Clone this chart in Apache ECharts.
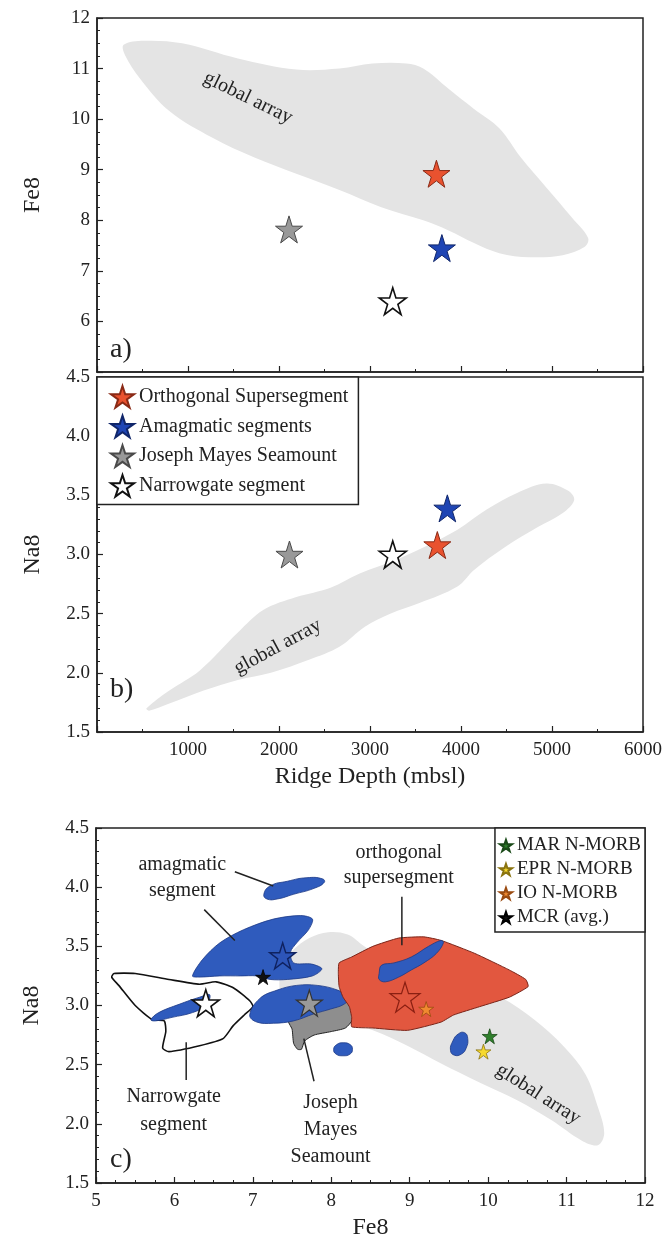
<!DOCTYPE html>
<html><head><meta charset="utf-8">
<script src="https://cdn.jsdelivr.net/npm/echarts@6/dist/echarts.min.js"></script>
<style>html,body{margin:0;padding:0;background:#fff}#c{width:665px;height:1239px}</style>
</head><body><div id="c"></div>
<script>
// ---------- DATA ----------
const groupNames = ['Orthogonal Supersegment', 'Amagmatic segments', 'Joseph Mayes Seamount', 'Narrowgate segment'];
// panel a: ridge depth vs Fe8
const depthA = [3730, 3790, 2110, 3250];
const fe8A = [8.92, 7.45, 7.82, 6.40];
// panel b: ridge depth vs Na8
const depthB = [3740, 3850, 2115, 3250];
const na8B = [3.08, 3.39, 3.00, 3.00];
// panel c: Fe8 vs Na8 (segment averages)
const fe8C = [8.94, 7.38, 7.72, 6.40];
const na8C = [3.07, 3.42, 3.02, 3.02];
// reference MORB averages (panel c)
const refNames = ['MAR N-MORB', 'EPR N-MORB', 'IO N-MORB', 'MCR (avg.)'];
const refFe8 = [10.02, 9.94, 9.21, 7.13];
const refNa8 = [2.74, 2.61, 2.97, 3.24];

// tick labels
const depthTicks = [1000, 2000, 3000, 4000, 5000, 6000];
const fe8TicksA = [6, 7, 8, 9, 10, 11, 12];
const na8Ticks = [1.5, 2.0, 2.5, 3.0, 3.5, 4.0, 4.5];
const fe8TicksC = [5, 6, 7, 8, 9, 10, 11, 12];

// global array outlines
const globalA = [[293,11.47],[516,11.55],[935,11.5],[1548,11.2],[2190,10.98],[2664,11.0],[3027,11.1],[3400,11.1],[3585,11.0],[3863,10.6],[4143,10.2],[4421,9.82],[4658,9.24],[4937,8.65],[5216,8.06],[5397,7.65],[5356,7.47],[5118,7.31],[4756,7.27],[4421,7.35],[4143,7.55],[3863,7.8],[3585,8.0],[3124,8.26],[2664,8.6],[2190,8.92],[1730,9.24],[1269,9.63],[795,10.16],[474,10.8],[307,11.27]];
const globalB = [[544,1.70],[795,1.85],[1130,2.02],[1548,2.34],[1827,2.53],[2190,2.64],[2566,2.72],[2887,2.84],[3264,2.95],[3585,3.06],[3961,3.21],[4282,3.38],[4616,3.52],[4937,3.60],[5174,3.54],[5244,3.46],[5118,3.35],[4840,3.23],[4477,3.06],[4143,2.87],[3961,2.73],[3543,2.59],[3222,2.50],[2943,2.39],[2664,2.22],[2329,2.11],[1911,2.00],[1548,1.94],[1172,1.85],[795,1.74],[572,1.68]];
const globalC = [[7.50,3.46],[7.72,3.57],[7.96,3.62],[8.21,3.60],[8.42,3.50],[8.75,3.36],[9.45,3.27],[10.16,3.07],[10.59,2.88],[10.97,2.65],[11.24,2.42],[11.40,2.14],[11.48,1.92],[11.40,1.82],[11.19,1.86],[10.81,2.03],[10.37,2.20],[9.89,2.35],[9.40,2.51],[8.97,2.66],[8.53,2.79],[8.10,2.88],[7.67,2.93],[7.39,3.05],[7.34,3.22],[7.42,3.38]];
// panel c compositional fields
const orthField = [[8.10,3.36],[8.26,3.41],[8.53,3.50],[8.86,3.57],[9.18,3.58],[9.40,3.55],[9.83,3.44],[10.27,3.30],[10.48,3.22],[10.51,3.16],[10.27,3.07],[9.89,2.99],[9.56,2.92],[9.40,2.86],[8.97,2.79],[8.53,2.81],[8.26,2.82],[8.26,2.90],[8.23,2.99],[8.15,3.07],[8.10,3.16],[8.09,3.27]];
const hookField = [[8.61,3.27],[8.64,3.34],[8.80,3.36],[9.02,3.41],[9.24,3.50],[9.40,3.55],[9.43,3.53],[9.34,3.44],[9.18,3.36],[9.02,3.30],[8.86,3.24],[8.69,3.20],[8.61,3.22]];
const amagBig = [[6.23,3.25],[6.36,3.39],[6.58,3.53],[6.88,3.64],[7.26,3.73],[7.61,3.76],[7.76,3.73],[7.71,3.64],[7.56,3.53],[7.48,3.45],[7.52,3.36],[7.75,3.35],[7.88,3.31],[7.76,3.25],[7.44,3.22],[7.22,3.22],[7.05,3.25],[6.84,3.25],[6.58,3.25],[6.31,3.24]];
const amagTop = [[7.14,3.94],[7.22,4.01],[7.44,4.05],[7.69,4.08],[7.89,4.07],[7.91,4.04],[7.78,3.99],[7.52,3.94],[7.31,3.90],[7.18,3.90]];
const narrowField = [[5.23,3.27],[5.50,3.27],[5.93,3.22],[6.32,3.18],[6.53,3.20],[6.75,3.15],[6.96,3.04],[7.00,2.99],[6.89,2.92],[6.75,2.83],[6.62,2.72],[6.32,2.66],[5.93,2.61],[5.85,2.64],[5.89,2.78],[5.87,2.87],[5.72,2.88],[5.50,3.00],[5.29,3.17],[5.20,3.24]];
const narrowBlue = [[5.70,2.88],[5.80,2.94],[6.06,3.01],[6.32,3.07],[6.45,3.09],[6.40,3.00],[6.23,2.94],[5.97,2.90],[5.76,2.87]];
const jmsGray = [[7.45,2.88],[7.50,2.80],[7.52,2.68],[7.57,2.63],[7.62,2.63],[7.66,2.70],[7.78,2.75],[8.00,2.78],[8.18,2.81],[8.27,2.88],[8.27,3.00],[8.20,3.08],[7.90,3.00]];
const jmsBlue = [[6.96,2.92],[7.09,3.06],[7.31,3.13],[7.56,3.17],[7.82,3.17],[8.08,3.13],[8.23,3.07],[8.16,3.01],[7.99,2.97],[7.78,2.93],[7.52,2.87],[7.26,2.85],[7.05,2.86]];
const blueSmall1 = [[8.03,2.63],[8.07,2.67],[8.15,2.685],[8.24,2.67],[8.27,2.63],[8.24,2.59],[8.15,2.575],[8.06,2.59]];
const blueSmall2 = [[9.52,2.62],[9.55,2.70],[9.62,2.76],[9.70,2.77],[9.74,2.72],[9.72,2.64],[9.66,2.59],[9.57,2.58]];

// annotations (text, anchor x, anchor y, rotation deg)
const notesA = [['global array', 1660, 10.42, -26]];
const notesB = [['global array', 1986, 2.22, 28.5]];
const notesC = [
  ['amagmatic', 6.10, 4.19, 0], ['segment', 6.10, 3.97, 0],
  ['orthogonal', 8.86, 4.29, 0], ['supersegment', 8.86, 4.08, 0],
  ['Narrowgate', 5.99, 2.23, 0], ['segment', 5.99, 1.99, 0],
  ['Joseph', 7.99, 2.18, 0], ['Mayes', 7.99, 1.95, 0], ['Seamount', 7.99, 1.72, 0],
  ['global array', 10.64, 2.25, -32.5]
];
const leadersC = [
  [[6.77,4.13],[7.26,4.01]],
  [[6.38,3.81],[6.77,3.55]],
  [[8.90,3.92],[8.90,3.51]],
  [[6.15,2.69],[6.15,2.37]],
  [[7.65,2.72],[7.78,2.36]]
];

// ---------- STYLE ----------
const FONT = '"Liberation Serif", "Times New Roman", serif';
const INK = '#222';
const STAR = 'path://M50,2 L61.2,36.2 L97.6,36.2 L68.2,57.4 L79.4,91.6 L50,70.4 L20.6,91.6 L31.8,57.4 L2.4,36.2 L38.8,36.2 Z';
const groupStyle = [
  {color: '#e9522f', borderColor: '#8a2a16', borderWidth: 1, opacity: 1},
  {color: '#1f45b4', borderColor: '#10266a', borderWidth: 1, opacity: 1},
  {color: '#999999', borderColor: '#4a4a4a', borderWidth: 1, opacity: 1},
  {color: '#ffffff', borderColor: '#111111', borderWidth: 1.6, opacity: 1}
];
const refColors = ['#2f7f2c', '#f6d92e', '#f08a30', '#111111'];
const refBorders = ['#1a4a18', '#8a7410', '#9a4a10', '#000000'];
const BLUE = '#2f5bbd', RED = '#e2573f', GLOBAL = '#e4e4e4';

function xAxisCfg(gi, min, max, interval, minorSplit, showLabels, labelSet, name) {
  return {
    type: 'value', gridIndex: gi, min, max, interval,
    name: name || '', nameLocation: 'middle', nameGap: 33,
    nameTextStyle: {fontFamily: FONT, fontSize: 24, color: INK},
    axisLine: {show: true, onZero: false, lineStyle: {color: INK, width: 1.5}},
    axisTick: {show: true, inside: true, length: 6, lineStyle: {color: INK, width: 1.2}},
    minorTick: {show: true, splitNumber: minorSplit, length: 3, lineStyle: {color: INK, width: 1}},
    splitLine: {show: false},
    axisLabel: {show: showLabels, margin: 9, fontFamily: FONT, fontSize: 19, color: INK,
      formatter: v => labelSet.some(t => Math.abs(t - v) < 1e-9) ? String(v) : ''}
  };
}
function yAxisCfg(gi, min, max, interval, minorSplit, labelSet, decimals, name) {
  return {
    type: 'value', gridIndex: gi, min, max, interval,
    name, nameLocation: 'middle', nameGap: 52, nameRotate: 90,
    nameTextStyle: {fontFamily: FONT, fontSize: 24, color: INK},
    axisLine: {show: true, onZero: false, lineStyle: {color: INK, width: 1.5}},
    axisTick: {show: true, inside: true, length: 6, lineStyle: {color: INK, width: 1.2}},
    minorTick: {show: true, splitNumber: minorSplit, length: 3, lineStyle: {color: INK, width: 1}},
    splitLine: {show: false},
    axisLabel: {margin: 7, fontFamily: FONT, fontSize: 19, color: INK,
      formatter: v => labelSet.some(t => Math.abs(t - v) < 1e-9) ? (decimals ? v.toFixed(1) : String(v)) : ''}
  };
}

function polySeries(pts, gi, style, smooth, z) {
  return {
    type: 'custom', xAxisIndex: gi, yAxisIndex: gi, coordinateSystem: 'cartesian2d',
    data: pts, clip: true, silent: true, z: z, animation: false,
    renderItem: (params, api) => {
      if (params.dataIndex !== 0) return null;
      return {type: 'polygon', shape: {points: pts.map(p => api.coord(p)), smooth: smooth}, style: Object.assign({}, style)};
    }
  };
}
function textSeries(notes, gi, z) {
  return {
    type: 'custom', xAxisIndex: gi, yAxisIndex: gi, coordinateSystem: 'cartesian2d',
    data: notes.map(n => [n[1], n[2]]), silent: true, z: z, animation: false,
    renderItem: (params, api) => {
      const n = notes[params.dataIndex];
      const p = api.coord([n[1], n[2]]);
      return {type: 'text', x: p[0], y: p[1], rotation: n[3] * Math.PI / 180,
        style: {text: n[0], fontFamily: FONT, fontSize: 20, fill: INK, align: 'center', verticalAlign: 'middle'}};
    }
  };
}
function leaderSeries(lines, gi, z) {
  return {
    type: 'custom', xAxisIndex: gi, yAxisIndex: gi, coordinateSystem: 'cartesian2d',
    data: lines.map(l => l[0]), silent: true, z: z, animation: false,
    renderItem: (params, api) => {
      const l = lines[params.dataIndex];
      return {type: 'polyline', shape: {points: l.map(p => api.coord(p))}, style: {stroke: INK, lineWidth: 1.5, fill: null}};
    }
  };
}

const series = [];
series.push(polySeries(globalA, 0, {fill: GLOBAL}, 0.35, 1));
series.push(polySeries(globalB, 1, {fill: GLOBAL}, 0.35, 1));
series.push(textSeries(notesA, 0, 3));
series.push(textSeries(notesB, 1, 3));
groupNames.forEach((nm, i) => {
  series.push({type: 'scatter', name: nm, xAxisIndex: 0, yAxisIndex: 0, symbol: STAR, symbolSize: 27,
    itemStyle: groupStyle[i], data: [[depthA[i], fe8A[i]]], z: 5, animation: false});
  series.push({type: 'scatter', name: nm, xAxisIndex: 1, yAxisIndex: 1, symbol: STAR, symbolSize: 27,
    itemStyle: groupStyle[i], data: [[depthB[i], na8B[i]]], z: 5, animation: false});
});
series.push(polySeries(globalC, 2, {fill: GLOBAL}, 0.35, 1));
series.push(polySeries(narrowField, 2, {fill: '#ffffff', stroke: '#111', lineWidth: 1.6}, 0.2, 2));
series.push(polySeries(narrowBlue, 2, {fill: BLUE, stroke: '#1d3a86', lineWidth: 0.8}, 0.4, 3));
series.push(polySeries(jmsGray, 2, {fill: '#8e8e8e', stroke: '#222', lineWidth: 1}, 0.2, 2));
series.push(polySeries(jmsBlue, 2, {fill: BLUE, stroke: '#1d3a86', lineWidth: 0.8}, 0.4, 3));
series.push(polySeries(orthField, 2, {fill: RED, stroke: '#7a2418', lineWidth: 1}, 0.15, 3));
series.push(polySeries(hookField, 2, {fill: BLUE, stroke: '#1d3a86', lineWidth: 0.8}, 0.4, 4));
series.push(polySeries(amagBig, 2, {fill: BLUE, stroke: '#1d3a86', lineWidth: 0.8}, 0.3, 3));
series.push(polySeries(amagTop, 2, {fill: BLUE, stroke: '#1d3a86', lineWidth: 0.8}, 0.5, 3));
series.push(polySeries(blueSmall1, 2, {fill: BLUE, stroke: '#1d3a86', lineWidth: 0.8}, 0.5, 3));
series.push(polySeries(blueSmall2, 2, {fill: BLUE, stroke: '#1d3a86', lineWidth: 0.8}, 0.5, 3));
series.push(leaderSeries(leadersC, 2, 6));
series.push(textSeries(notesC, 2, 6));
const cStarStyle = [
  {color: RED, borderColor: '#8a1f12', borderWidth: 1.2, opacity: 1},
  {color: '#2d55b8', borderColor: '#0f2260', borderWidth: 1.4, opacity: 1},
  {color: '#999999', borderColor: '#333', borderWidth: 1.2, opacity: 1},
  {color: '#ffffff', borderColor: '#111', borderWidth: 1.6, opacity: 1}
];
const cStarSize = [30, 26, 26, 27];
groupNames.forEach((nm, i) => {
  series.push({type: 'scatter', name: nm, xAxisIndex: 2, yAxisIndex: 2, symbol: STAR, symbolSize: cStarSize[i],
    itemStyle: cStarStyle[i], data: [[fe8C[i], na8C[i]]], z: 7, animation: false});
});
refNames.forEach((nm, i) => {
  series.push({type: 'scatter', name: nm, xAxisIndex: 2, yAxisIndex: 2, symbol: STAR, symbolSize: 15,
    itemStyle: {color: refColors[i], borderColor: refBorders[i], borderWidth: 0.8, opacity: 1},
    data: [[refFe8[i], refNa8[i]]], z: 8, animation: false});
});

const gridBase = {show: true, borderColor: INK, borderWidth: 1.5, backgroundColor: 'transparent', containLabel: false, outerBoundsMode: 'none'};
const option = {
  backgroundColor: '#ffffff',
  animation: false,
  grid: [
    Object.assign({left: 97, top: 18, width: 546, height: 354}, gridBase),
    Object.assign({left: 97, top: 377, width: 546, height: 355}, gridBase),
    Object.assign({left: 96, top: 828, width: 549, height: 355}, gridBase)
  ],
  xAxis: [
    xAxisCfg(0, 0, 6000, 1000, 2, false, depthTicks, ''),
    xAxisCfg(1, 0, 6000, 1000, 2, true, depthTicks, 'Ridge Depth (mbsl)'),
    xAxisCfg(2, 5, 12, 1, 4, true, fe8TicksC, 'Fe8')
  ],
  yAxis: [
    yAxisCfg(0, 5, 12, 1, 4, fe8TicksA, false, 'Fe8'),
    yAxisCfg(1, 1.5, 4.5, 0.5, 5, na8Ticks, true, 'Na8'),
    yAxisCfg(2, 1.5, 4.5, 0.5, 5, na8Ticks, true, 'Na8')
  ],
  legend: [
    {data: groupNames, orient: 'vertical', left: 97, top: 377, selectedMode: false,
      itemWidth: 23, itemHeight: 23, itemGap: 6, padding: [8, 10, 7, 13],
      backgroundColor: '#fff', borderColor: INK, borderWidth: 1.5, borderRadius: 0,
      textStyle: {fontFamily: FONT, fontSize: 20, color: INK}},
    {data: refNames, orient: 'vertical', right: 20, top: 828, selectedMode: false,
      itemWidth: 12, itemHeight: 13, itemGap: 5, padding: [8, 4, 5, 4],
      backgroundColor: '#fff', borderColor: INK, borderWidth: 1.5, borderRadius: 0,
      textStyle: {fontFamily: FONT, fontSize: 19, color: INK}}
  ],
  graphic: [
    {type: 'text', left: 110, top: 336, style: {text: 'a)', fontFamily: FONT, fontSize: 28, fill: INK}},
    {type: 'text', left: 110, top: 676, style: {text: 'b)', fontFamily: FONT, fontSize: 28, fill: INK}},
    {type: 'text', left: 110, top: 1146, style: {text: 'c)', fontFamily: FONT, fontSize: 28, fill: INK}}
  ],
  series: series
};
const chart = echarts.init(document.getElementById('c'), null, {renderer: 'canvas'});
chart.setOption(option);
</script></body></html>
